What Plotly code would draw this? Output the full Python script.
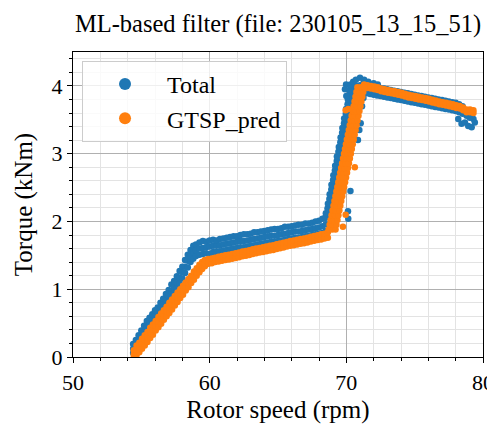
import plotly.graph_objects as go

# ---------------- data ----------------
# Total: columns (rotor speed, torque values...)
total_rise = [
    (54.40, 0.06, 0.12, 0.19), (54.60, 0.08, 0.17, 0.25), (54.80, 0.15, 0.23, 0.32),
    (55.00, 0.21, 0.30, 0.39), (55.20, 0.28, 0.37, 0.46), (55.40, 0.34, 0.43, 0.53),
    (55.60, 0.41, 0.50, 0.58), (55.80, 0.46, 0.55, 0.63), (56.00, 0.51, 0.60, 0.69),
    (56.20, 0.56, 0.65, 0.73), (56.40, 0.62, 0.71, 0.80), (56.60, 0.69, 0.78, 0.86),
    (56.80, 0.75, 0.84, 0.93), (57.00, 0.82, 0.91, 0.99), (57.20, 0.88, 0.97, 1.07),
    (57.40, 0.95, 1.04, 1.12), (57.60, 1.01, 1.10, 1.19), (57.80, 1.08, 1.17, 1.27),
    (58.00, 1.16, 1.25, 1.33), (58.20, 1.24, 1.33, 1.43), (58.40, 1.32, 1.42, 1.51),
    (58.60, 1.40, 1.49, 1.58), (58.80, 1.45, 1.54, 1.64), (59.00, 1.49, 1.58, 1.66),
]
total_flat = [
    (59.25, 1.51, 1.60, 1.69), (59.50, 1.52, 1.61, 1.71), (59.75, 1.53, 1.62, 1.70),
    (60.00, 1.52, 1.63, 1.72), (60.25, 1.55, 1.64, 1.73), (60.50, 1.55, 1.64, 1.72),
    (60.75, 1.56, 1.65, 1.74), (61.00, 1.57, 1.66, 1.75), (61.25, 1.58, 1.67, 1.76),
    (61.50, 1.59, 1.68, 1.77), (61.75, 1.60, 1.69, 1.78), (62.00, 1.61, 1.70, 1.78),
    (62.25, 1.62, 1.71, 1.80), (62.50, 1.62, 1.71, 1.81), (62.75, 1.63, 1.72, 1.81),
    (63.00, 1.64, 1.73, 1.82), (63.25, 1.65, 1.74, 1.84), (63.50, 1.66, 1.75, 1.84),
    (63.75, 1.67, 1.76, 1.85), (64.00, 1.68, 1.77, 1.86), (64.25, 1.69, 1.78, 1.87),
    (64.50, 1.70, 1.79, 1.88), (64.75, 1.70, 1.79, 1.89), (65.00, 1.71, 1.80, 1.89),
    (65.25, 1.72, 1.81, 1.90), (65.50, 1.73, 1.82, 1.92), (65.75, 1.74, 1.83, 1.92),
    (66.00, 1.75, 1.84, 1.93), (66.25, 1.76, 1.85, 1.94), (66.50, 1.76, 1.85, 1.95),
    (66.75, 1.77, 1.86, 1.95), (67.00, 1.78, 1.87, 1.97), (67.25, 1.79, 1.88, 1.97),
    (67.50, 1.80, 1.89, 1.98), (67.75, 1.81, 1.90, 2.00), (68.00, 1.82, 1.91, 2.01),
    (68.25, 1.83, 1.93, 2.04), (68.50, 1.86, 1.96, 2.07),
]
# Total, steep part: rows (torque, rotor speed values...)
total_steep = [
    (2.05, 68.45, 68.80, 69.15), (2.12, 68.50, 68.86, 69.21), (2.19, 68.62, 68.93, 69.28),
    (2.26, 68.65, 69.00, 69.35), (2.33, 68.76, 69.06, 69.41), (2.40, 68.78, 69.13, 69.48),
    (2.47, 68.90, 69.20, 69.55), (2.54, 68.91, 69.26, 69.61), (2.61, 69.03, 69.33, 69.68),
    (2.68, 69.05, 69.40, 69.75), (2.75, 69.16, 69.46, 69.81), (2.82, 69.18, 69.53, 69.88),
    (2.89, 69.30, 69.60, 69.95), (2.96, 69.31, 69.66, 70.01), (3.03, 69.42, 69.73, 70.08),
    (3.10, 69.45, 69.80, 70.15), (3.17, 69.56, 69.86, 70.21), (3.24, 69.58, 69.93, 70.28),
    (3.31, 69.69, 69.99, 70.34), (3.38, 69.71, 70.06, 70.41), (3.45, 69.83, 70.13, 70.48),
    (3.52, 69.84, 70.19, 70.54), (3.59, 69.96, 70.26, 70.61), (3.66, 69.98, 70.33, 70.68),
    (3.73, 70.09, 70.39, 70.74), (3.80, 70.11, 70.46, 70.81), (3.87, 70.22, 70.53, 70.88),
    (3.94, 70.24, 70.59, 70.94), (4.01, 70.35, 70.66, 71.01),
]
total_top = [
    (71.25, 3.90, 3.96, 4.04), (71.50, 3.89, 3.95, 4.03), (71.75, 3.88, 3.94, 4.01),
    (72.00, 3.87, 3.93, 3.99), (72.25, 3.86, 3.92, 3.98), (72.50, 3.85, 3.91, 3.97),
    (72.75, 3.84, 3.90, 3.96), (73.00, 3.83, 3.89, 3.95), (73.25, 3.82, 3.88, 3.94),
    (73.50, 3.81, 3.87, 3.93), (73.75, 3.80, 3.86, 3.92), (74.00, 3.79, 3.85, 3.91),
    (74.25, 3.78, 3.84, 3.90), (74.50, 3.77, 3.83, 3.89), (74.75, 3.76, 3.82, 3.88),
    (75.00, 3.75, 3.81, 3.87), (75.25, 3.74, 3.80, 3.86), (75.50, 3.73, 3.79, 3.85),
    (75.75, 3.72, 3.78, 3.84), (76.00, 3.71, 3.77, 3.83), (76.25, 3.70, 3.76, 3.82),
    (76.50, 3.69, 3.75, 3.81), (76.75, 3.68, 3.74, 3.80), (77.00, 3.67, 3.73, 3.79),
    (77.25, 3.66, 3.72, 3.78), (77.50, 3.65, 3.71, 3.77), (77.75, 3.64, 3.70, 3.76),
    (78.00, 3.63, 3.69, 3.75), (78.25, 3.61, 3.67, 3.73), (78.50, 3.59, 3.65, 3.70),
]
# scattered single points of Total
total_extra_speed = [69.90, 69.98, 70.00, 70.30, 70.50, 70.70, 71.00, 71.30, 71.60, 72.00, 72.30,
                     71.25, 71.15, 71.05, 70.95, 70.85, 70.30, 70.12, 70.14,
                     78.19, 78.43, 78.68, 78.92, 79.17, 79.30, 79.40, 79.04, 78.80]
total_extra_torque = [3.95, 4.02, 3.85, 4.02, 4.06, 4.09, 4.12, 4.09, 4.06, 4.04, 4.02,
                      3.82, 3.70, 3.45, 3.35, 3.20, 2.45, 2.15, 2.04,
                      3.51, 3.44, 3.46, 3.41, 3.39, 3.51, 3.46, 3.53, 3.56]

# GTSP_pred
pred_rise = [
    (54.45, 0.00, 0.04, 0.10), (54.65, 0.03, 0.10, 0.17), (54.85, 0.07, 0.14, 0.21),
    (55.05, 0.12, 0.20, 0.27), (55.25, 0.17, 0.25, 0.32), (55.45, 0.22, 0.30, 0.37),
    (55.65, 0.28, 0.36, 0.43), (55.85, 0.33, 0.41, 0.48), (56.05, 0.39, 0.46, 0.53),
    (56.25, 0.44, 0.52, 0.59), (56.45, 0.49, 0.57, 0.64), (56.65, 0.55, 0.62, 0.69),
    (56.85, 0.60, 0.67, 0.74), (57.05, 0.65, 0.73, 0.80), (57.25, 0.70, 0.78, 0.85),
    (57.45, 0.76, 0.83, 0.90), (57.65, 0.81, 0.88, 0.95), (57.85, 0.87, 0.94, 1.00),
    (58.05, 0.92, 0.99, 1.05), (58.25, 0.98, 1.04, 1.10), (58.45, 1.03, 1.09, 1.15),
    (58.65, 1.09, 1.15, 1.20), (58.85, 1.14, 1.20, 1.26), (59.05, 1.20, 1.25, 1.31),
    (59.25, 1.25, 1.30, 1.36), (59.45, 1.30, 1.35, 1.40), (59.65, 1.34, 1.38, 1.43),
]
pred_flat = [
    (59.90, 1.375, 1.445), (60.15, 1.385, 1.455), (60.40, 1.400, 1.465), (60.65, 1.410, 1.480),
    (60.90, 1.420, 1.490), (61.15, 1.430, 1.500), (61.40, 1.440, 1.510), (61.65, 1.450, 1.520),
    (61.90, 1.460, 1.530), (62.15, 1.470, 1.540), (62.40, 1.485, 1.555), (62.65, 1.495, 1.565),
    (62.90, 1.505, 1.575), (63.15, 1.520, 1.590), (63.40, 1.530, 1.600), (63.65, 1.540, 1.610),
    (63.90, 1.550, 1.620), (64.15, 1.560, 1.630), (64.40, 1.570, 1.640), (64.65, 1.580, 1.650),
    (64.90, 1.595, 1.665), (65.15, 1.605, 1.675), (65.40, 1.615, 1.685), (65.65, 1.630, 1.695),
    (65.90, 1.640, 1.710), (66.15, 1.650, 1.720), (66.40, 1.660, 1.730), (66.65, 1.670, 1.740),
    (66.90, 1.680, 1.750), (67.15, 1.690, 1.760), (67.40, 1.705, 1.775), (67.65, 1.715, 1.785),
    (67.90, 1.725, 1.795), (68.15, 1.735, 1.810), (68.40, 1.750, 1.820), (68.65, 1.760, 1.840),
]
pred_steep = [
    (1.88, 68.71, 68.96, 69.21), (1.95, 68.78, 69.03, 69.28), (2.02, 68.85, 69.10, 69.35),
    (2.09, 68.92, 69.17, 69.42), (2.16, 68.99, 69.24, 69.49), (2.23, 69.06, 69.31, 69.56),
    (2.30, 69.13, 69.38, 69.63), (2.37, 69.20, 69.45, 69.70), (2.44, 69.27, 69.52, 69.77),
    (2.51, 69.34, 69.59, 69.84), (2.58, 69.41, 69.66, 69.91), (2.65, 69.48, 69.73, 69.98),
    (2.72, 69.55, 69.80, 70.05), (2.79, 69.62, 69.87, 70.12), (2.86, 69.69, 69.94, 70.19),
    (2.93, 69.76, 70.01, 70.26), (3.00, 69.83, 70.08, 70.33), (3.07, 69.90, 70.15, 70.40),
    (3.14, 69.97, 70.22, 70.47), (3.21, 70.04, 70.29, 70.54), (3.28, 70.11, 70.36, 70.61),
    (3.35, 70.18, 70.43, 70.68), (3.42, 70.25, 70.50, 70.75), (3.49, 70.32, 70.57, 70.82),
    (3.56, 70.39, 70.64, 70.89), (3.63, 70.46, 70.71, 70.96), (3.70, 70.53, 70.78, 71.03),
    (3.77, 70.60, 70.85, 71.10), (3.84, 70.67, 70.92, 71.17), (3.91, 70.74, 70.99, 71.24),
    (3.98, 70.81, 71.06, 71.31),
]
pred_top = [
    (71.30, 3.98, 4.02), (71.55, 3.97, 4.01), (71.80, 3.96, 4.00), (72.05, 3.95, 3.99),
    (72.30, 3.94, 3.98), (72.55, 3.92, 3.96), (72.80, 3.91, 3.95), (73.05, 3.90, 3.94),
    (73.30, 3.89, 3.93), (73.55, 3.88, 3.92), (73.80, 3.87, 3.91), (74.05, 3.86, 3.90),
    (74.30, 3.845, 3.885), (74.55, 3.83, 3.87), (74.80, 3.82, 3.86), (75.05, 3.81, 3.85),
    (75.30, 3.80, 3.84), (75.55, 3.79, 3.83), (75.80, 3.78, 3.82), (76.05, 3.77, 3.81),
    (76.30, 3.755, 3.795), (76.55, 3.745, 3.785), (76.80, 3.73, 3.77), (77.05, 3.72, 3.76),
    (77.30, 3.71, 3.75), (77.55, 3.70, 3.74), (77.80, 3.69, 3.73), (78.05, 3.675, 3.715),
    (78.30, 3.665, 3.705), (78.55, 3.64, 3.68), (78.80, 3.61, 3.65), (79.05, 3.61, 3.65),
    (79.30, 3.60, 3.64),
]
pred_extra_speed = [69.95, 70.14, 70.62, 69.75, 69.95]
pred_extra_torque = [3.64, 3.66, 2.80, 1.92, 2.10]

x_ticks = [50, 60, 70, 80]
y_ticks = [0, 1, 2, 3, 4]
title_text = "ML-based filter (file: 230105_13_15_51)"
series_names = ["Total", "GTSP_pred"]
BLUE = "#1f77b4"
ORANGE = "#ff7f0e"


def from_columns(cols):
    xs, ys = [], []
    for c in cols:
        for v in c[1:]:
            xs.append(c[0])
            ys.append(v)
    return xs, ys


def from_rows(rows):
    xs, ys = [], []
    for r in rows:
        for v in r[1:]:
            xs.append(v)
            ys.append(r[0])
    return xs, ys


def gather(col_parts, row_parts, ex_x, ex_y):
    xs, ys = [], []
    for p in col_parts:
        a, b = from_columns(p)
        xs += a
        ys += b
    for p in row_parts:
        a, b = from_rows(p)
        xs += a
        ys += b
    return xs + ex_x, ys + ex_y


tx, ty = gather([total_rise, total_flat, total_top], [total_steep],
                total_extra_speed, total_extra_torque)
px, py = gather([pred_rise, pred_flat, pred_top], [pred_steep],
                pred_extra_speed, pred_extra_torque)

FONT = "Liberation Serif, DejaVu Serif, serif"
fig = go.Figure()
fig.add_trace(go.Scatter(x=tx, y=ty, mode="markers", name=series_names[0],
                         marker=dict(color=BLUE, size=6.5, line=dict(width=0))))
fig.add_trace(go.Scatter(x=px, y=py, mode="markers", name=series_names[1],
                         marker=dict(color=ORANGE, size=6.5, line=dict(width=0))))

axis_common = dict(
    showline=True, linecolor="black", linewidth=1.2, mirror=True,
    ticks="outside", ticklen=5, tickwidth=1.2, tickcolor="black",
    showgrid=True, gridcolor="#b0b0b0", gridwidth=1,
    zeroline=False, automargin=False,
    tickfont=dict(family=FONT, size=22, color="black"),
)
# the page body adds an 8 px offset, so the figure is sized and margined to compensate
fig.update_layout(
    width=487, height=417,
    margin=dict(l=65, r=12, t=44, b=68),
    paper_bgcolor="white", plot_bgcolor="white",
    font=dict(family=FONT, color="black"),
    title=dict(text=title_text, x=0.5, xref="paper", xanchor="center",
               y=0.962, yref="container", yanchor="middle",
               font=dict(family=FONT, size=24.5, color="black")),
    showlegend=True,
    legend=dict(x=0.022, y=0.971, xanchor="left", yanchor="top",
                bgcolor="rgba(255,255,255,0.8)", bordercolor="#cccccc", borderwidth=1,
                font=dict(family=FONT, size=24, color="black"),
                itemsizing="constant", itemwidth=74, tracegroupgap=0),
)
fig.update_xaxes(range=[50, 80], tickvals=x_ticks, ticktext=[str(v) for v in x_ticks],
                 title=dict(text="Rotor speed (rpm)", font=dict(family=FONT, size=25), standoff=6),
                 minor=dict(dtick=2, tick0=50, showgrid=True, gridcolor="#e3e3e3",
                            ticks="outside", ticklen=3, tickcolor="black"),
                 **axis_common)
fig.update_yaxes(range=[0, 4.5], tickvals=y_ticks, ticktext=[str(v) for v in y_ticks],
                 title=dict(text="Torque (kNm)", font=dict(family=FONT, size=25), standoff=11),
                 minor=dict(dtick=0.2, tick0=0, showgrid=True, gridcolor="#e3e3e3",
                            ticks="outside", ticklen=3, tickcolor="black"),
                 **axis_common)

fig.write_html("out.html")
